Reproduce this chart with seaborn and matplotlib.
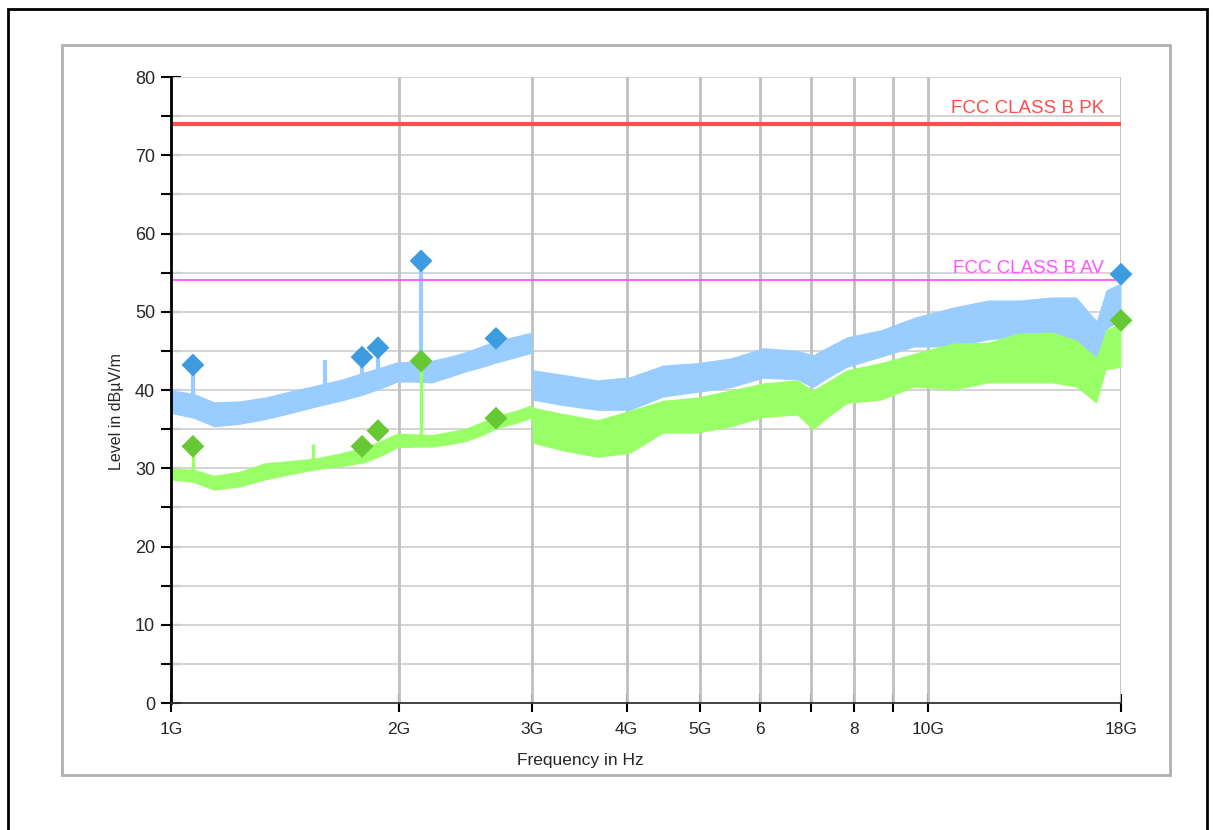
import numpy as np
import pandas as pd
import seaborn as sns
import matplotlib
matplotlib.use("Agg")
import matplotlib.pyplot as plt
from matplotlib.patches import Rectangle
from matplotlib.ticker import FixedLocator, NullFormatter

# ---- Peak detector trace (envelope of the sweep), frequency in GHz, level in dBuV/m
peak_freq = [1.00, 1.07, 1.14, 1.23, 1.33, 1.44, 1.55, 1.68, 1.80, 1.90, 1.99, 2.10, 2.21,
             2.33, 2.45, 2.58, 2.70, 2.85, 2.995, 3.005, 3.30, 3.66, 4.04, 4.47, 4.96,
             5.49, 6.06, 6.72, 7.05, 7.40, 7.82, 8.67, 9.60, 10.8, 12.0, 13.2, 14.6,
             15.7, 16.7, 17.2, 18.0]
peak_upper = [40.0, 39.6, 38.5, 38.6, 39.1, 39.9, 40.6, 41.4, 42.3, 43.0, 43.6, 43.7, 43.8,
              44.3, 44.9, 45.7, 46.4, 46.9, 47.4, 42.6, 42.0, 41.3, 41.7, 43.2, 43.5,
              44.1, 45.4, 45.1, 44.5, 45.6, 46.8, 47.7, 49.3, 50.6, 51.5, 51.5, 51.9,
              51.9, 48.9, 52.8, 53.7]
peak_lower = [37.0, 36.4, 35.3, 35.6, 36.2, 37.0, 37.8, 38.6, 39.4, 40.2, 41.0, 41.0, 40.9,
              41.6, 42.3, 42.9, 43.5, 44.1, 44.7, 38.7, 38.0, 37.4, 37.4, 39.1, 39.7,
              40.3, 41.5, 41.3, 40.3, 41.6, 42.9, 44.2, 45.5, 45.5, 46.4, 46.8, 47.3,
              45.5, 42.9, 47.7, 49.0]

# ---- Average detector trace
avg_freq = [1.00, 1.07, 1.14, 1.23, 1.33, 1.44, 1.55, 1.68, 1.80, 1.90, 1.99, 2.10, 2.21,
            2.33, 2.45, 2.58, 2.70, 2.85, 2.995, 3.005, 3.30, 3.66, 4.04, 4.47, 4.96,
            5.49, 6.06, 6.72, 7.05, 7.40, 7.82, 8.67, 9.60, 10.8, 12.0, 13.2, 14.6,
            15.7, 16.7, 17.2, 18.0]
avg_upper = [30.0, 29.9, 29.1, 29.6, 30.7, 31.0, 31.3, 32.0, 32.7, 33.6, 34.5, 34.4, 34.3,
             34.7, 35.1, 36.0, 36.8, 37.4, 38.1, 37.8, 37.0, 36.2, 37.4, 38.7, 39.1,
             40.0, 40.9, 41.3, 40.0, 41.2, 42.6, 43.5, 44.7, 46.0, 46.1, 47.3, 47.4,
             46.4, 44.2, 47.7, 48.6]
avg_lower = [28.5, 28.2, 27.2, 27.6, 28.5, 29.2, 29.8, 30.2, 30.7, 31.6, 32.6, 32.7, 32.7,
             33.0, 33.4, 34.2, 35.1, 35.7, 36.4, 33.2, 32.2, 31.4, 31.9, 34.5, 34.5,
             35.3, 36.5, 36.8, 34.9, 36.6, 38.3, 38.7, 40.4, 40.0, 40.9, 40.9, 40.9,
             40.4, 38.3, 42.6, 42.9]

# ---- Narrow emissions rising out of the traces (freq, base level, top level)
peak_spike_freq = [1.069, 1.60, 1.788, 1.877, 2.14]
peak_spike_base = [38.5, 39.0, 41.0, 41.5, 43.0]
peak_spike_top = [43.2, 43.8, 44.2, 45.4, 56.5]

avg_spike_freq = [1.069, 1.54, 2.14]
avg_spike_base = [29.0, 30.0, 33.5]
avg_spike_top = [32.8, 33.1, 43.7]

# ---- Final measurement points
final_freq = [1.069, 1.788, 1.877, 2.14, 2.688, 18.0]
final_peak = [43.2, 44.2, 45.4, 56.5, 46.6, 54.8]
final_avg = [32.8, 32.8, 34.8, 43.7, 36.4, 48.9]

# ---- Limit lines
limit_freq = [1.0, 18.0]
limit_pk = [74.0, 74.0]
limit_av = [54.0, 54.0]
limit_pk_label = "FCC CLASS B PK"
limit_av_label = "FCC CLASS B AV"

# ---- Axis ticks
x_ticks = [1, 2, 3, 4, 5, 6, 7, 8, 9, 10, 18]
x_tick_labels = ["1G", "2G", "3G", "4G", "5G", "6", "", "8", "", "10G", "18G"]
y_ticks = [0, 10, 20, 30, 40, 50, 60, 70, 80]

PEAK_TRACE = "#99ccff"
AVG_TRACE = "#99ff66"
PEAK_MARK = "#3d9be0"
AVG_MARK = "#66c933"
PK_LIMIT = "#ff4c4c"
AV_LIMIT = "#ff55ff"

sns.set_theme(style="white")
plt.rcParams["font.family"] = ["Liberation Sans", "DejaVu Sans"]

W, H = 1213, 830
fig = plt.figure(figsize=(W / 100, H / 100), dpi=100)
ax = fig.add_axes([171 / W, 1 - 703 / H, 950 / W, 626 / H])

# traces
ax.vlines(peak_spike_freq, peak_spike_base, peak_spike_top, color=PEAK_TRACE, lw=3, zorder=2)
ax.fill_between(peak_freq, peak_lower, peak_upper, color=PEAK_TRACE, lw=0, zorder=2)
ax.vlines(avg_spike_freq, avg_spike_base, avg_spike_top, color=AVG_TRACE, lw=2.5, zorder=3)
ax.fill_between(avg_freq, avg_lower, avg_upper, color=AVG_TRACE, lw=0, zorder=3)

# limit lines
lim = pd.DataFrame({"f": limit_freq, "pk": limit_pk, "av": limit_av})
sns.lineplot(data=lim, x="f", y="pk", color=PK_LIMIT, lw=3, ax=ax, zorder=4)
sns.lineplot(data=lim, x="f", y="av", color=AV_LIMIT, lw=1.3, ax=ax, zorder=4)
ax.text(17.1, limit_pk[0] + 0.9, limit_pk_label, color=PK_LIMIT, fontsize=13.5,
        ha="right", va="bottom", zorder=5)
ax.text(17.1, limit_av[0] + 0.5, limit_av_label, color=AV_LIMIT, fontsize=13.5,
        ha="right", va="bottom", zorder=5)

# final measurement diamonds
fin = pd.DataFrame({"f": final_freq, "pk": final_peak, "av": final_avg})
sns.scatterplot(data=fin, x="f", y="pk", marker="D", s=135, color=PEAK_MARK,
                edgecolor="none", ax=ax, zorder=6, clip_on=False)
sns.scatterplot(data=fin, x="f", y="av", marker="D", s=135, color=AVG_MARK,
                edgecolor="none", ax=ax, zorder=6, clip_on=False)

# axes
ax.set_xscale("log")
ax.set_xlim(1, 18)
ax.set_ylim(0, 80)
ax.xaxis.set_major_locator(FixedLocator(x_ticks))
ax.xaxis.set_minor_locator(FixedLocator([]))
ax.set_xticklabels(x_tick_labels)
ax.yaxis.set_major_locator(FixedLocator(y_ticks))
ax.yaxis.set_minor_locator(FixedLocator([5, 15, 25, 35, 45, 55, 65, 75]))
ax.yaxis.set_minor_formatter(NullFormatter())

ax.set_xlabel("")
ax.set_ylabel("")

# grid
for y in range(5, 81, 5):
    ax.axhline(y, color="#d4d4d4", lw=1.4, zorder=1)
for x in x_ticks[1:]:
    ax.axvline(x, color="#c0c0c0", lw=2, zorder=1)

for side in ("top", "right"):
    ax.spines[side].set_visible(False)
ax.spines["left"].set_color("black")
ax.spines["left"].set_linewidth(2)
ax.spines["left"].set_zorder(7)
ax.spines["bottom"].set_color("#333333")
ax.spines["bottom"].set_linewidth(1.3)
ax.spines["bottom"].set_zorder(7)

ax.tick_params(axis="y", which="both", direction="inout", length=15, width=1.5,
               color="black", labelsize=13, pad=4, left=True)
ax.tick_params(axis="x", which="major", direction="inout", length=13, width=1.5,
               color="black", labelsize=12.5, pad=7, bottom=True)

# axis titles
fig.text(580 / W, 1 - 760 / H, "Frequency in Hz", fontsize=12.5, ha="center", va="center")
fig.text(116 / W, 1 - 412 / H, "Level in dBµV/m", fontsize=11.5, rotation=90,
         ha="center", va="center")

# frames
fig.patches.append(Rectangle((62 / W, 1 - 775 / H), (1170 - 62) / W, (775 - 45) / H,
                             transform=fig.transFigure, fill=False,
                             edgecolor="#b0b0b0", lw=2))
fig.patches.append(Rectangle((8 / W, -0.02), (1207 - 8) / W, 1.02 - 9 / H,
                             transform=fig.transFigure, fill=False,
                             edgecolor="black", lw=2))

fig.savefig("out.png", dpi=100, facecolor="white")
